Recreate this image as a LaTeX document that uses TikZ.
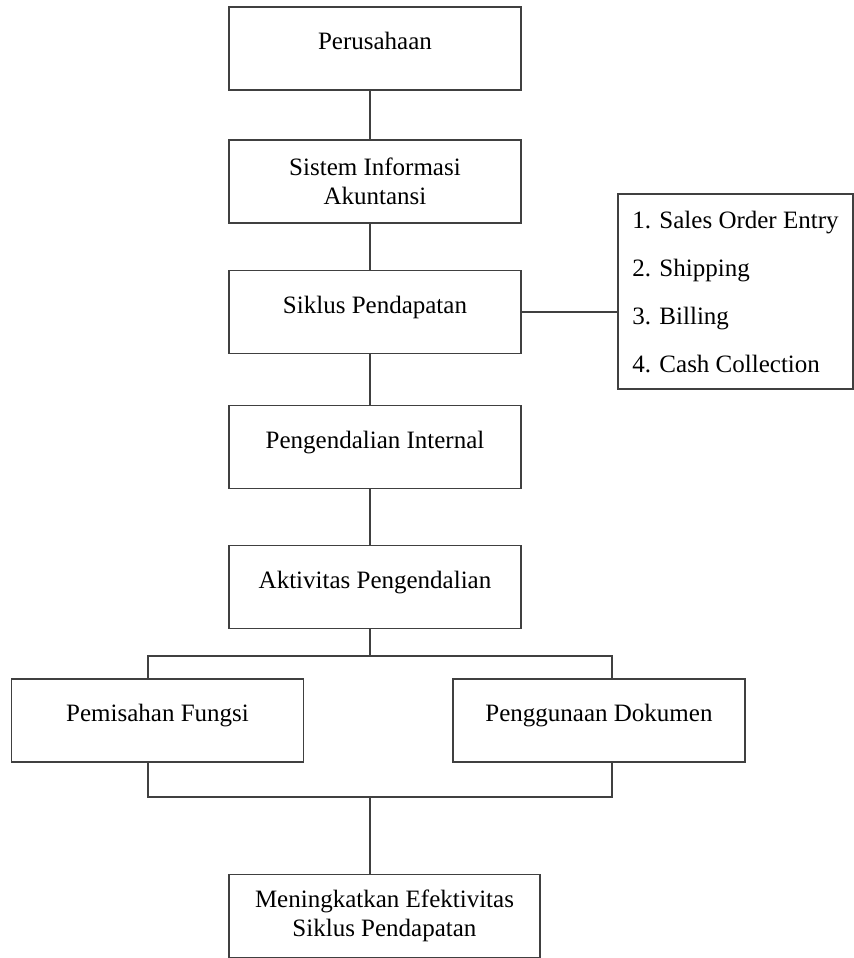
\documentclass[tikz,border=0pt]{standalone}
\usepackage{fontspec}
\setmainfont{Liberation Serif}
\begin{document}
\begin{tikzpicture}[x=0.5pt, y=-0.5pt,
    box/.style={draw=black!75, line width=0.75pt, minimum width=146pt, minimum height=41.5pt, font=\fontsize{12.5}{14.5}\selectfont},
    onebox/.style={box, text height=9pt, text depth=8pt},
    twobox/.style={box, align=center},
    link/.style={draw=black!75, line width=0.75pt}]
    \useasboundingbox (0, 0) rectangle (853, 958);

    % Main column
    \node[onebox] (peru) at (375, 48.5) {Perusahaan};
    \node[twobox] (sia) at (375, 181.5) {Sistem Informasi\\Akuntansi};
    \node[onebox] (siklus) at (375, 312) {Siklus Pendapatan};
    \node[onebox] (pi) at (375, 447) {Pengendalian Internal};
    \node[onebox] (ap) at (375, 587) {Aktivitas Pengendalian};

    % Stages of the cycle
    \node[box, align=left, minimum width=117.5pt, minimum height=97.5pt] (tahap) at (735.5, 291.5)
        {1. Sales Order Entry\\[9.5pt] 2. Shipping\\[9.5pt] 3. Billing\\[9.5pt] 4. Cash Collection};

    % Two control activities
    \node[onebox] (pf) at (157.5, 720.5) {Pemisahan Fungsi};
    \node[onebox] (pd) at (599, 720.5) {Penggunaan Dokumen};

    % Result
    \node[twobox, minimum width=155.5pt] (mes) at (384.5, 916) {Meningkatkan Efektivitas\\Siklus Pendapatan};

    % Connectors
    \coordinate (spine) at (370, 0);
    \coordinate (leftleg) at (148, 0);
    \coordinate (rightleg) at (612, 0);
    \coordinate (split) at (0, 656);
    \coordinate (merge) at (0, 797);

    \draw[link] (peru.south -| spine) -- (sia.north -| spine);
    \draw[link] (sia.south -| spine) -- (siklus.north -| spine);
    \draw[link] (siklus.south -| spine) -- (pi.north -| spine);
    \draw[link] (pi.south -| spine) -- (ap.north -| spine);
    \draw[link] (siklus.east) -- (siklus.east -| tahap.west);

    \draw[link] (ap.south -| spine) -- (split -| spine);
    \draw[link] (pf.north -| leftleg) -- (split -| leftleg) -- (split -| rightleg) -- (pd.north -| rightleg);
    \draw[link] (pf.south -| leftleg) -- (merge -| leftleg) -- (merge -| rightleg) -- (pd.south -| rightleg);
    \draw[link] (merge -| spine) -- (mes.north -| spine);
\end{tikzpicture}
\end{document}
